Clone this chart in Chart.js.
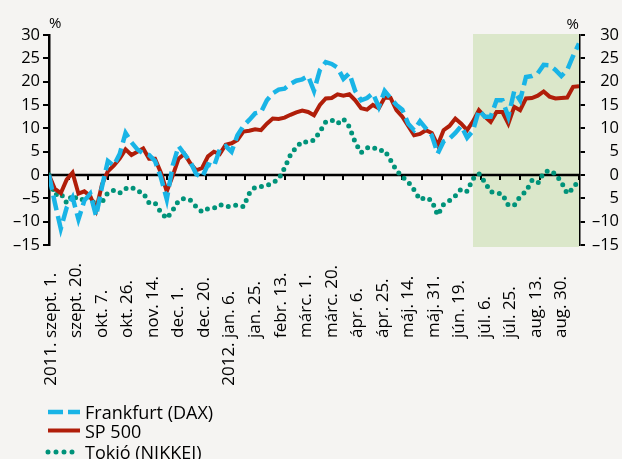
<!DOCTYPE html>
<html>
<head>
<meta charset="utf-8">
<script src="https://cdn.jsdelivr.net/npm/chart.js@4"></script>
<style>
  html, body { margin: 0; padding: 0; background: #f5f4f2; }
</style>
</head>
<body>
<canvas id="stockChart" width="622" height="459"></canvas>
<script>
'use strict';

//--------> Data <--------
// one value every 3 trading days, starting 2011. szept. 1.
const dayStep = 3;
const lastDay = 270;
const dax = [0,-6,-11.5,-7,-4.8,-9.5,-5.5,-4,-8.8,-2.5,
  3,2,4.5,9,7,5.5,4.6,4.3,3,-0.5,
  -5.2,2,6.2,4.5,2.8,0.2,-0.5,2.3,1.8,5.5,
  6.2,5,8.5,10.5,11.8,13.2,13.5,16,17.5,18.3,
  18.5,19.5,20.2,20.5,21.2,18,22.5,24.2,23.8,23,
  20.6,21.8,18,16,16.5,17.5,14.6,18,16.5,15,
  14,11,9.6,11.5,10,8.5,4.6,7.2,7.8,9,
  10.5,8,9.5,13.9,12.5,12.5,16,16,12.5,18,
  16,21,21.2,21.8,23.6,23.5,22.5,21.2,22.5,25.5,
  28.2];
const sp500 = [0,-3,-3.9,-1,0.5,-4,-3.5,-4.5,-7.5,-2,
  0.8,2,3.5,5.5,4.3,5,5.7,3.5,3.5,0.5,
  -3.5,-0.2,3.5,4.5,2.5,1,1.5,4,5,4.5,
  6.5,6.8,7.5,9.3,9.5,9.8,9.6,11,12.1,12,
  12.3,12.9,13.4,13.8,13.5,12.8,15,16.4,16.5,17.3,
  17,17.3,16,14.3,14,15,14.3,16.6,16.5,13.9,
  12.5,10.5,8.5,8.8,9.6,9,6.4,9.6,10.5,12.1,
  11,9.6,11.5,13.9,12.5,11.4,13.5,13.5,11,14.6,
  13.9,16.4,16.5,17,17.9,16.8,16.4,16.5,16.6,18.9,
  19];
const nikkei = [0,-4.3,-3.9,-6,-4.3,-5.4,-5.2,-4.6,-6.8,-5.8,
  -3.8,-3.3,-3.9,-2.9,-2.6,-3.5,-3.8,-6,-6,-8,
  -9.3,-7.6,-5.5,-5,-5.4,-6.8,-7.9,-7.2,-7.1,-6.3,
  -6.8,-6.7,-6.4,-6.8,-4,-2.6,-2.5,-2.3,-1.6,-0.9,
  1.5,4.3,6,7.2,7,7.5,9.3,11.4,11.8,11,
  12,10.3,7,4.8,5.8,6,5.2,5.3,3.2,1,
  -0.4,-1.5,-3.2,-5.3,-4.8,-5.5,-8.6,-6.3,-5.5,-4.5,
  -3,-3.5,-0.8,0.3,-1.5,-3.6,-3.8,-4.1,-6.5,-6.5,
  -4.6,-3.5,-1.2,-1.8,0.5,1,0.2,-1.5,-4,-2.9,
  -1];

// date labels every 13 trading days, tick marks every 10
const dateLabels = ['2011. szept. 1.', 'szept. 20.', 'okt. 7.', 'okt. 26.', 'nov. 14.',
  'dec. 1.', 'dec. 20.', '2012. jan. 6.', 'jan. 25.', 'febr. 13.', 'márc. 1.',
  'márc. 20.', 'ápr. 6.', 'ápr. 25.', 'máj. 14.', 'máj. 31.', 'jún. 19.',
  'júl. 6.', 'júl. 25.', 'aug. 13.', 'aug. 30.'];
const labelEvery = 13;
const tickEvery = 10;
const shadeFrom = 216; // green band starts here

const yTickValues = [30, 25, 20, 15, 10, 5, 0, -5, -10, -15];
const leftTickLabels = ['30', '25', '20', '15', '10', '5', '0', '–5', '–10', '–15'];
const rightTickLabels = ['30', '25', '20', '15', '10', '5', '0', '5', '–10', '–15'];

const seriesNames = ['Frankfurt (DAX)', 'SP 500', 'Tokió (NIKKEI)'];

//--------> Helpers <--------
function toPoints (values) {
  return values.map((v, i) => ({ x: i * dayStep, y: v }));
}

const fontName = 'Open Sans';
Chart.defaults.font.family = fontName;
Chart.defaults.color = '#000';

//--------> Custom drawing <--------
// green band + zero line with its small tick marks
const backdropPlugin = {
  id: 'backdrop',
  beforeDatasetsDraw (chart) {
    const ctx = chart.ctx;
    const area = chart.chartArea;
    const xs = chart.scales.x;
    const ys = chart.scales.y;
    ctx.save();
    ctx.fillStyle = '#dbe7ca';
    let x0 = xs.getPixelForValue(shadeFrom);
    ctx.fillRect(x0, area.top - 1, area.right - x0, area.bottom - area.top + 3);

    let y0 = ys.getPixelForValue(0);
    ctx.strokeStyle = '#000';
    ctx.lineWidth = 2.5;
    ctx.beginPath();
    ctx.moveTo(area.left, y0);
    ctx.lineTo(area.right, y0);
    ctx.stroke();
    ctx.lineWidth = 2;
    ctx.beginPath();
    for (let d = tickEvery; d <= lastDay; d += tickEvery) {
      let x = Math.round(xs.getPixelForValue(d));
      ctx.moveTo(x, y0);
      ctx.lineTo(x, y0 + 5);
    }
    ctx.stroke();
    ctx.restore();
  }
};

// rotated date labels, % units and the legend
const textPlugin = {
  id: 'texts',
  afterDraw (chart) {
    const ctx = chart.ctx;
    const area = chart.chartArea;
    const xs = chart.scales.x;
    ctx.save();
    ctx.fillStyle = '#000';

    // date labels: bottom-aligned, year prefix hangs below
    ctx.font = '17px "' + fontName + '"';
    ctx.textAlign = 'left';
    ctx.textBaseline = 'middle';
    for (let i = 0; i < dateLabels.length; i++) {
      let text = dateLabels[i];
      let m = text.match(/^\d{4}\. /);
      let shift = m ? ctx.measureText(m[0]).width : 0;
      let x = xs.getPixelForValue(i * labelEvery) + 2;
      ctx.save();
      ctx.translate(x, 338 + shift);
      ctx.rotate(-Math.PI / 2);
      ctx.fillText(text, 0, 0);
      ctx.restore();
    }

    // % above both axes
    ctx.font = '15px "' + fontName + '"';
    ctx.textBaseline = 'alphabetic';
    ctx.textAlign = 'left';
    ctx.fillText('%', area.left, 28);
    ctx.textAlign = 'right';
    ctx.fillText('%', area.right, 29);

    // legend, one row per series
    const rows = [412, 430.5, 452];
    ctx.font = '18px "' + fontName + '"';
    ctx.textAlign = 'left';
    ctx.textBaseline = 'middle';
    chart.data.datasets.forEach((ds, i) => {
      ctx.save();
      ctx.strokeStyle = ds.borderColor;
      ctx.lineWidth = ds.borderWidth;
      ctx.lineCap = ds.borderCapStyle || 'butt';
      ctx.setLineDash(ds.legendDash || ds.borderDash || []);
      ctx.beginPath();
      ctx.moveTo(48, rows[i]);
      ctx.lineTo(80, rows[i]);
      ctx.stroke();
      ctx.restore();
      ctx.fillText(ds.label, 85, rows[i] + 2);
    });
    ctx.restore();
  }
};

//--------> Chart <--------
const ctx = document.getElementById('stockChart').getContext('2d');
const stockChart = new Chart(ctx, {
  type: 'line',
  data: {
    datasets: [{
      label: seriesNames[0],
      data: toPoints(dax),
      borderColor: '#19b4e6',
      borderWidth: 4.5,
      borderDash: [15, 6],
      legendDash: [15, 5]
    }, {
      label: seriesNames[1],
      data: toPoints(sp500),
      borderColor: '#b01e0a',
      borderWidth: 4
    }, {
      label: seriesNames[2],
      data: toPoints(nikkei),
      borderColor: '#00937a',
      borderWidth: 5,
      borderDash: [0, 7.5],
      borderCapStyle: 'round',
      legendDash: [0, 8]
    }]
  },
  options: {
    responsive: false,
    animation: false,
    devicePixelRatio: 1,
    elements: {
      point: { radius: 0 },
      line: { tension: 0 }
    },
    layout: { padding: { left: 9, right: 3, top: 35, bottom: 214 } },
    plugins: {
      legend: { display: false },
      tooltip: { enabled: false }
    },
    scales: {
      x: {
        type: 'linear',
        min: 0,
        max: lastDay,
        display: false
      },
      y: {
        position: 'left',
        min: -15,
        max: 30,
        afterFit: (scale) => { scale.width = 40; },
        ticks: {
          stepSize: 5,
          autoSkip: false,
          padding: 3,
          font: { size: 16.5 },
          callback: (v) => leftTickLabels[yTickValues.indexOf(v)]
        },
        grid: { drawOnChartArea: false, color: '#000', lineWidth: 2, tickLength: 6 },
        border: { color: '#000', width: 2.5 }
      },
      y2: {
        position: 'right',
        min: -15,
        max: 30,
        afterFit: (scale) => { scale.width = 40; },
        ticks: {
          stepSize: 5,
          autoSkip: false,
          padding: 5,
          crossAlign: 'far',
          font: { size: 16.5 },
          callback: (v) => rightTickLabels[yTickValues.indexOf(v)]
        },
        grid: { drawOnChartArea: false, color: '#000', lineWidth: 2, tickLength: 6 },
        border: { color: '#000', width: 2.5 }
      }
    }
  },
  plugins: [backdropPlugin, textPlugin]
});
</script>
</body>
</html>
